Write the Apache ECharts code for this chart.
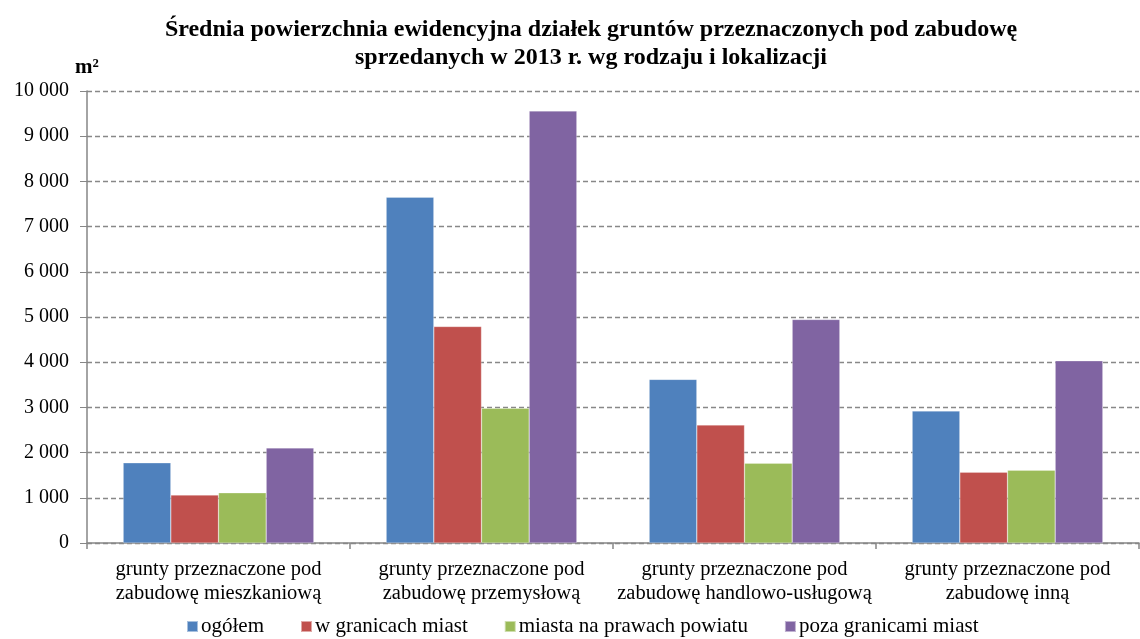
<!DOCTYPE html>
<html><head><meta charset="utf-8">
<script src="https://cdn.jsdelivr.net/npm/echarts@6/dist/echarts.min.js"></script>
<style>html,body{margin:0;padding:0;background:#fff}#c{width:1140px;height:639px}</style>
</head><body><div id="c"></div>
<script>
const categories = ['grunty przeznaczone pod\nzabudowę mieszkaniową','grunty przeznaczone pod\nzabudowę przemysłową','grunty przeznaczone pod\nzabudowę handlowo-usługową','grunty przeznaczone pod\nzabudowę inną'];
const seriesNames = ['ogółem','w granicach miast','miasta na prawach powiatu','poza granicami miast'];
const ogolem = [1773, 7650, 3620, 2920];
const wGranicachMiast = [1060, 4790, 2610, 1567];
const miastaNaPrawachPowiatu = [1110, 2980, 1766, 1611];
const pozaGranicamiMiast = [2104, 9559, 4945, 4031];
const colors = ['#4F81BD','#C0504D','#9BBB59','#8064A2'];
const font = 'Liberation Serif, Times New Roman, serif';
const chart = echarts.init(document.getElementById('c'));
const data = [ogolem, wGranicachMiast, miastaNaPrawachPowiatu, pozaGranicamiMiast];
chart.setOption({
  animation:false,
  textStyle:{fontFamily:font},
  title:{text:'Średnia powierzchnia ewidencyjna działek gruntów przeznaczonych pod zabudowę\nsprzedanych w 2013 r. wg rodzaju i lokalizacji',left:586,textAlign:'center',top:11,
    textStyle:{fontFamily:font,fontSize:24,fontWeight:'bold',color:'#000',lineHeight:28}},
  legend:{top:616,left:186,padding:0,itemWidth:11,itemHeight:11,itemGap:36,icon:'rect',
    textStyle:{fontFamily:font,fontSize:21,color:'#000',padding:[0,0,0,-2]},data:seriesNames},
  grid:{left:87,right:1,top:91,bottom:96,containLabel:false},
  xAxis:{type:'category',data:categories,
    axisLine:{lineStyle:{color:'#868686',width:1.5}},
    axisTick:{show:true,length:6,lineStyle:{color:'#868686',width:1.5}},
    axisLabel:{fontFamily:font,fontSize:20.5,color:'#000',lineHeight:24,margin:15,interval:0}},
  yAxis:{type:'value',min:0,max:10000,interval:1000,
    name:'m²',nameLocation:'end',nameGap:13,nameTextStyle:{fontFamily:font,fontSize:21,fontWeight:'bold',color:'#000',align:'center'},
    axisLine:{show:true,lineStyle:{color:'#868686',width:1.5}},
    axisTick:{show:true,length:7,lineStyle:{color:'#868686'}},
    axisLabel:{fontFamily:font,fontSize:20,color:'#000',margin:18,formatter:v=>String(v).replace(/\B(?=(\d{3})+(?!\d))/g,' ')},
    splitLine:{lineStyle:{color:'#888',type:[5,3],width:1.3}}},
  series: seriesNames.map((n,i)=>({name:n,type:'bar',data:data[i],barGap:'0%',barCategoryGap:'27.5%',
    itemStyle:{color:colors[i],borderColor:'rgba(255,255,255,0.5)',borderWidth:0.5}}))
});
</script></body></html>
